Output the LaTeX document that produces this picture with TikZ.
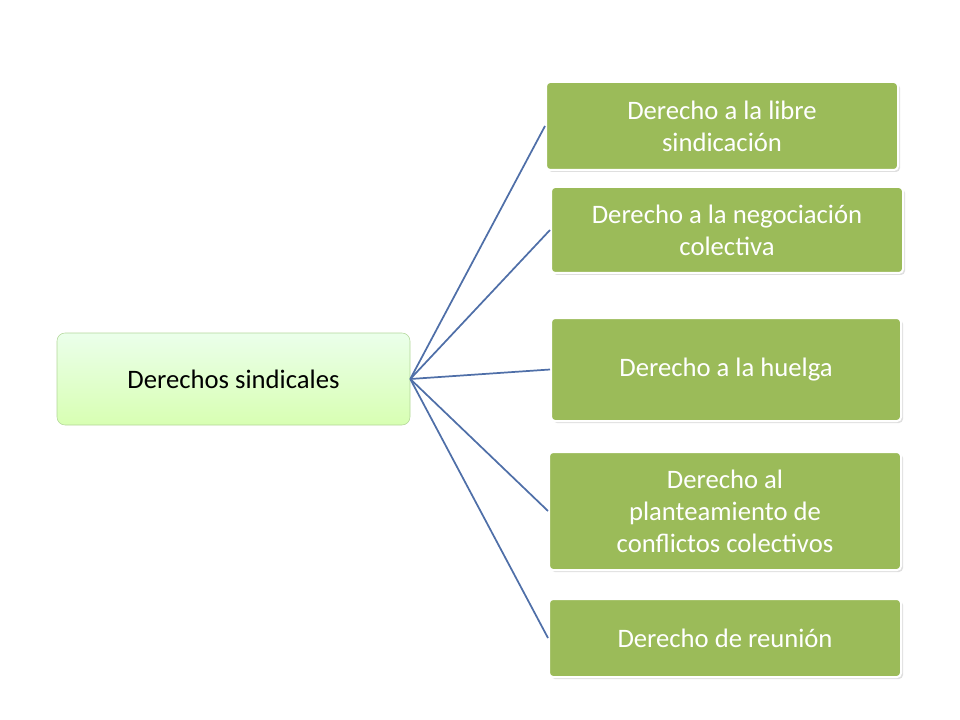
\documentclass[tikz,border=0pt]{standalone}
\usepackage{fontspec}
\setmainfont{Carlito}
\usetikzlibrary{shadows}
\definecolor{leaf}{HTML}{9BBB59}
\definecolor{conn}{HTML}{4F6FA8}
\begin{document}
\begin{tikzpicture}[x=0.75pt,y=-0.75pt,
  leafbox/.style={draw=white,line width=1.5pt,fill=leaf,rounded corners=3pt,text=white,align=center,
    font=\fontsize{20}{24}\selectfont,inner sep=0pt,drop shadow={opacity=0.25,shadow xshift=1.5pt,shadow yshift=-1.5pt}},
  rootbox/.style={draw=green!45!lime!60!black!40,top color=green!8!white,bottom color=green!35!lime!30!white,
    rounded corners=6pt,align=center,font=\fontsize{20}{24}\selectfont,inner sep=0pt},
  link/.style={draw=conn,line width=1.3pt}]
\useasboundingbox (0,0) rectangle (960,720);
\node[rootbox,minimum width=353*0.75pt,minimum height=92*0.75pt] (r) at (233.5,379) {Derechos sindicales};
\node[leafbox,minimum width=352*0.75pt,minimum height=88*0.75pt] (a) at (722,126) {Derecho a la libre\\sindicación};
\node[leafbox,minimum width=352*0.75pt,minimum height=86*0.75pt] (b) at (727,230) {Derecho a la negociación\\colectiva};
\node[leafbox,minimum width=350*0.75pt,minimum height=103*0.75pt] (c) at (726,369.5) {Derecho a la huelga};
\node[leafbox,minimum width=352*0.75pt,minimum height=118*0.75pt] (d) at (725,511) {Derecho al\\planteamiento de\\conflictos colectivos};
\node[leafbox,minimum width=352*0.75pt,minimum height=78*0.75pt] (e) at (725,638) {Derecho de reunión};
\foreach \n in {a,b,c,d,e} \draw[link] (r.east) -- (\n.west);
\end{tikzpicture}
\end{document}
